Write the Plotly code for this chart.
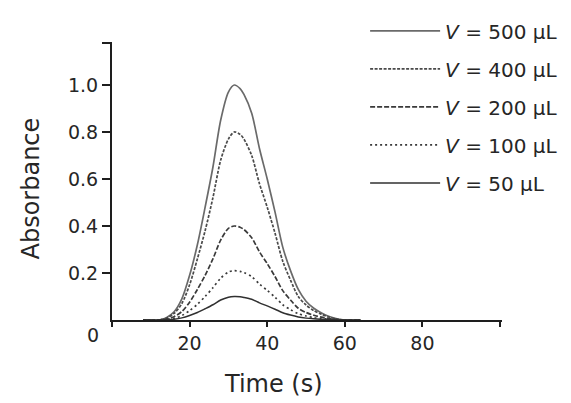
import plotly.graph_objects as go

# Time (s)
time_s = [8, 12, 14, 16, 18, 20, 22, 24, 26, 28, 30, 31.5, 33, 34, 36, 38, 40, 42,
          44, 46, 48, 50, 52, 54, 56, 58, 60, 64]

# Absorbance for each injected volume
abs_500 = [0, 0, 0.01, 0.035, 0.09, 0.19, 0.32, 0.48, 0.65, 0.85, 0.97, 1.0, 0.985, 0.96,
           0.88, 0.73, 0.60, 0.46, 0.31, 0.21, 0.13, 0.08, 0.05, 0.03, 0.015, 0.005, 0, 0]
abs_400 = [0, 0, 0.008, 0.028, 0.07, 0.15, 0.26, 0.38, 0.52, 0.68, 0.77, 0.80, 0.79, 0.77,
           0.70, 0.58, 0.48, 0.37, 0.25, 0.17, 0.10, 0.064, 0.04, 0.024, 0.012, 0.004, 0, 0]
abs_200 = [0, 0, 0.004, 0.014, 0.036, 0.076, 0.13, 0.19, 0.26, 0.34, 0.39, 0.40, 0.395, 0.385,
           0.35, 0.29, 0.24, 0.185, 0.125, 0.085, 0.05, 0.032, 0.02, 0.012, 0.006, 0.002, 0, 0]
abs_100 = [0, 0, 0.002, 0.007, 0.019, 0.04, 0.067, 0.10, 0.137, 0.178, 0.204, 0.21, 0.207, 0.202,
           0.185, 0.153, 0.126, 0.097, 0.065, 0.044, 0.027, 0.017, 0.01, 0.006, 0.003, 0.001, 0, 0]
abs_50 = [0, 0, 0.001, 0.0035, 0.009, 0.019, 0.032, 0.048, 0.065, 0.085, 0.097, 0.10, 0.099, 0.096,
          0.088, 0.073, 0.06, 0.046, 0.031, 0.021, 0.013, 0.008, 0.005, 0.003, 0.0015, 0.0005, 0, 0]

series_names = ["<i>V</i> = 500 µL", "<i>V</i> = 400 µL", "<i>V</i> = 200 µL",
                "<i>V</i> = 100 µL", "<i>V</i> = 50 µL"]
series_values = [abs_500, abs_400, abs_200, abs_100, abs_50]

x_tickvals = [0, 20, 40, 60, 80, 100]
x_ticktext = ["", "20", "40", "60", "80", ""]
y_tickvals = [0.2, 0.4, 0.6, 0.8, 1.0, 1.18]
y_ticktext = ["0.2", "0.4", "0.6", "0.8", "1.0", ""]

styles = [
    dict(color="#6a6a6a", width=1.7, dash="solid"),
    dict(color="#4a4a4a", width=1.7, dash="3px,1.5px"),
    dict(color="#3a3a3a", width=1.7, dash="5px,2px"),
    dict(color="#3a3a3a", width=1.7, dash="2px,3px"),
    dict(color="#303030", width=1.5, dash="solid"),
]

fig = go.Figure()
for i, (name, vals) in enumerate(zip(series_names, series_values)):
    fig.add_trace(go.Scatter(
        x=time_s, y=vals, mode="lines", name=name,
        line=dict(shape="spline", smoothing=0.8, **styles[i]),
        legendgroup=f"g{i}",
    ))

font_family = "DejaVu Sans, Arial, sans-serif"
axis_color = "#1e1e1e"

fig.update_layout(
    width=563, height=395, autosize=False,
    margin=dict(l=104, r=69, t=34, b=83, autoexpand=False),
    paper_bgcolor="white", plot_bgcolor="white",
    font=dict(family=font_family, color="#262626", size=19),
    showlegend=True,
    legend=dict(
        x=0.649, y=1.11, xanchor="left", yanchor="top",
        bgcolor="rgba(0,0,0,0)", font=dict(size=20, color="#262626"),
        itemwidth=70, tracegroupgap=9, traceorder="grouped",
    ),
    xaxis=dict(
        range=[0, 100.5], showgrid=False, zeroline=False,
        showline=True, linewidth=2, linecolor=axis_color,
        ticks="outside", ticklen=5, tickwidth=1.5, tickcolor=axis_color,
        tickvals=x_tickvals, ticktext=x_ticktext,
        tickfont=dict(size=19),
    ),
    yaxis=dict(
        range=[0, 1.183], showgrid=False, zeroline=False,
        showline=True, linewidth=2, linecolor=axis_color,
        ticks="outside", ticklen=8, tickwidth=1.5, tickcolor=axis_color,
        tickvals=y_tickvals, ticktext=y_ticktext,
        tickfont=dict(size=19),
    ),
    annotations=[
        dict(text="Absorbance", xref="paper", yref="paper", x=-0.2077, y=0.473,
             textangle=-90, showarrow=False, font=dict(size=24),
             xanchor="center", yanchor="middle"),
        dict(text="Time (s)", xref="paper", yref="paper", x=0.413, y=-0.23,
             showarrow=False, font=dict(size=24), xanchor="center", yanchor="middle"),
        dict(text="0", xref="paper", yref="paper", x=-0.0487, y=-0.054,
             showarrow=False, font=dict(size=19), xanchor="center", yanchor="middle"),
    ],
)

fig.write_html("out.html")
